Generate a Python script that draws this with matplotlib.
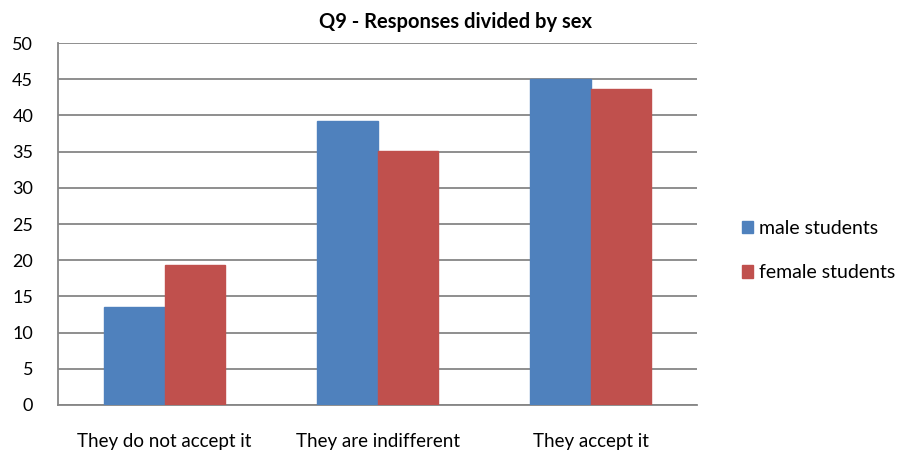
import numpy as np
import matplotlib.pyplot as plt
from matplotlib.patches import Patch

categories = ["They do not accept it", "They are indifferent", "They accept it"]
male = [13.5, 39.3, 45.0]
female = [19.3, 35.1, 43.7]
series_names = ["male students", "female students"]

plt.rcParams['font.family'] = ['Lato', 'DejaVu Sans']

fig = plt.figure(figsize=(9.09, 4.54), dpi=100)
ax = fig.add_axes([0.064, 0.108, 0.703, 0.797])

x = np.arange(len(categories))
w = 0.283
ax.bar(x - w / 2, male, w, color='#4F81BD', edgecolor='#4F81BD', zorder=3)
ax.bar(x + w / 2, female, w, color='#C0504D', edgecolor='#C0504D', zorder=3)

ax.set_xlim(-0.5, 2.5)
ax.set_ylim(0, 50)
ax.set_yticks(range(0, 51, 5))
ax.yaxis.grid(True, color='#868686', linewidth=1.3, zorder=0)
ax.set_axisbelow(True)
ax.set_xticks(x)
ax.set_xticklabels(categories, fontsize=13.5)
ax.tick_params(axis='y', labelsize=13, length=0, pad=18)
ax.tick_params(axis='x', length=0, pad=20)
for lbl in ax.get_yticklabels():
    lbl.set_horizontalalignment('right')

for side in ['top', 'right']:
    ax.spines[side].set_visible(False)
for side in ['left', 'bottom']:
    ax.spines[side].set_color('#868686')
    ax.spines[side].set_linewidth(1.3)

fig.text(0.501, 0.951, "Q9 - Responses divided by sex", fontsize=14.5,
         fontweight='bold', ha='center', va='center')

handles = [Patch(color='#4F81BD'), Patch(color='#C0504D')]
fig.legend(handles, series_names, loc='center left', bbox_to_anchor=(0.816, 0.448),
           frameon=False, fontsize=14, borderpad=0, borderaxespad=0,
           handlelength=0.6, handleheight=0.6, handletextpad=0.3, labelspacing=1.4)

fig.savefig('out.png', dpi=100)
